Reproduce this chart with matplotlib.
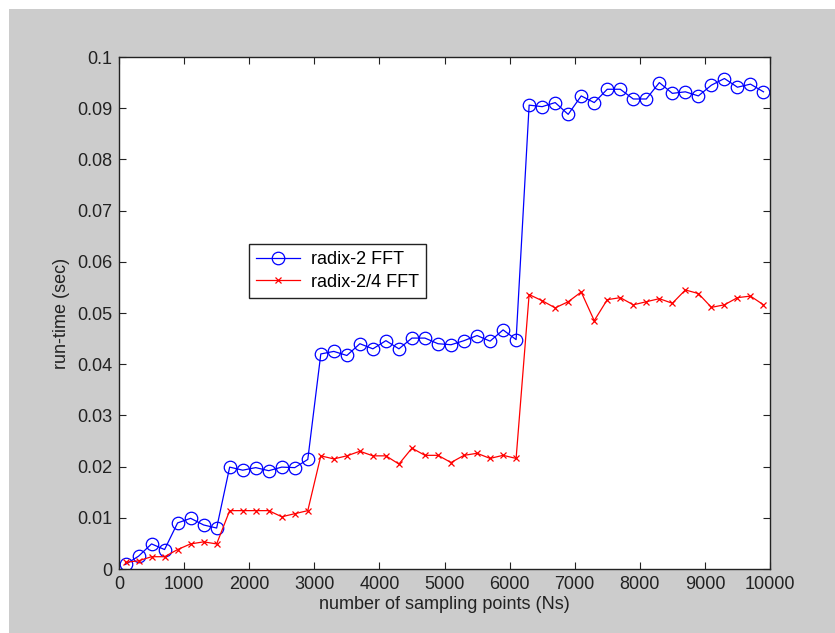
import matplotlib
matplotlib.use('Agg')
import matplotlib.pyplot as plt
from matplotlib.patches import Rectangle

ns = list(range(100, 10000, 200))

radix2 = [0.0009, 0.0025, 0.0049, 0.0038, 0.0090, 0.0099, 0.0086, 0.0080, 0.0199, 0.0193,
          0.0198, 0.0192, 0.0199, 0.0198, 0.0214, 0.0420, 0.0425, 0.0417, 0.0440, 0.0430,
          0.0446, 0.0430, 0.0451, 0.0451, 0.0440, 0.0438, 0.0446, 0.0456, 0.0445, 0.0467,
          0.0448, 0.0906, 0.0903, 0.0911, 0.0888, 0.0924, 0.0911, 0.0937, 0.0937, 0.0918,
          0.0918, 0.0950, 0.0929, 0.0932, 0.0924, 0.0945, 0.0958, 0.0941, 0.0947, 0.0932]

radix24 = [0.0013, 0.0016, 0.0024, 0.0024, 0.0038, 0.0049, 0.0053, 0.0049, 0.0114, 0.0114,
           0.0114, 0.0114, 0.0102, 0.0108, 0.0114, 0.0221, 0.0215, 0.0221, 0.0230, 0.0221,
           0.0221, 0.0205, 0.0236, 0.0222, 0.0222, 0.0208, 0.0222, 0.0226, 0.0216, 0.0222,
           0.0216, 0.0536, 0.0524, 0.0510, 0.0522, 0.0541, 0.0485, 0.0526, 0.0530, 0.0516,
           0.0522, 0.0528, 0.0519, 0.0545, 0.0538, 0.0511, 0.0516, 0.0530, 0.0533, 0.0516]

xticks = list(range(0, 10001, 1000))
yticks = [0, 0.01, 0.02, 0.03, 0.04, 0.05, 0.06, 0.07, 0.08, 0.09, 0.1]
ytick_labels = ['0', '0.01', '0.02', '0.03', '0.04', '0.05', '0.06', '0.07', '0.08', '0.09', '0.1']

plt.rcParams['font.family'] = ['Liberation Sans', 'DejaVu Sans']
plt.rcParams['font.size'] = 13

W, H = 835, 633
fig = plt.figure(figsize=(W / 100, H / 100), dpi=100, facecolor='white')
# grey matlab-style figure area (white strip at top and left)
fig.patches.append(Rectangle((9 / W, 0), 1, (H - 9) / H, transform=fig.transFigure,
                             facecolor='#cccccc', edgecolor='none', zorder=-10))

ax = fig.add_axes([119 / W, (H - 569) / H, 651 / W, 512 / H])
ax.set_facecolor('white')

ax.plot(ns, radix2, color='blue', marker='o', markerfacecolor='none', markeredgecolor='blue',
        markersize=9, linewidth=0.9, markeredgewidth=0.9, label='radix-2 FFT')
ax.plot(ns, radix24, color='red', marker='x', markersize=5, linewidth=0.9,
        markeredgewidth=0.9, label='radix-2/4 FFT')

ax.set_xlim(0, 10000)
ax.set_ylim(0, 0.1)
ax.set_xticks(xticks)
ax.set_xticklabels([str(t) for t in xticks])
ax.set_yticks(yticks)
ax.set_yticklabels(ytick_labels)
ax.tick_params(direction='in', top=True, right=True, length=5, width=0.8,
               colors='#222222', labelcolor='#222222', pad=5)
for s in ax.spines.values():
    s.set_linewidth(1.0)
    s.set_color('#222222')

ax.set_xlabel('number of sampling points (Ns)', color='#222222', labelpad=2)
ax.set_ylabel('run-time (sec)', color='#222222', labelpad=5)

leg = ax.legend(loc='upper left', bbox_to_anchor=(0.2, 0.635), fancybox=False,
                edgecolor='#222222', framealpha=1, handlelength=2.4, handletextpad=0.6,
                borderpad=0.4, labelspacing=0.3, borderaxespad=0)
leg.get_frame().set_linewidth(1.0)

fig.savefig('out.png', dpi=100, facecolor=fig.get_facecolor())
